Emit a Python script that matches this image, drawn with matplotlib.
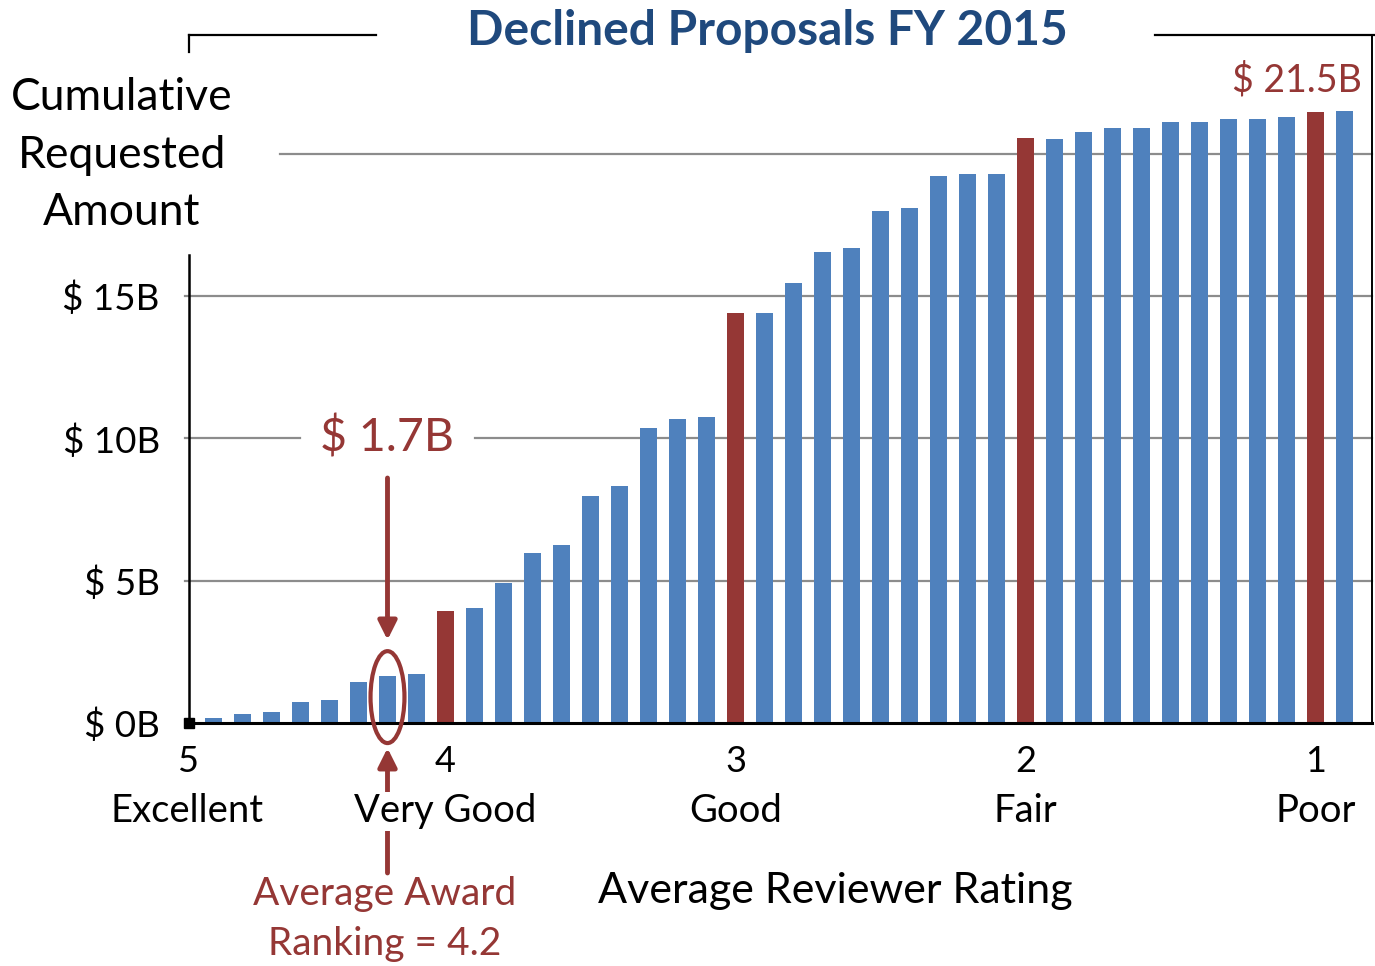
import matplotlib.pyplot as plt
from matplotlib.patches import Ellipse

# cumulative requested amount ($B), one bar per rating bin, best -> worst
amounts = [0.18, 0.31, 0.38, 0.75, 0.82, 1.44, 1.66, 1.72, 3.94, 4.03,
           4.93, 5.98, 6.25, 7.98, 8.32, 10.37, 10.67, 10.77, 14.41, 14.41,
           15.47, 16.54, 16.69, 17.98, 18.10, 19.23, 19.31, 19.31, 20.56, 20.54,
           20.77, 20.92, 20.92, 21.12, 21.12, 21.23, 21.23, 21.31, 21.48, 21.52]
# bins that sit on a whole rating (4, 3, 2, 1) are highlighted
highlight = [8, 18, 28, 38]

rating_pos = [-0.9, 8, 18, 28, 38]
rating_num = ["5", "4", "3", "2", "1"]
rating_word = ["Excellent", "Very Good", "Good", "Fair", "Poor"]

ytick_vals = [0, 5, 10, 15]
ytick_labels = ["$ 0B", "$ 5B", "$ 10B", "$ 15B"]

award_bar = 6
award_label = "$ 1.7B"
total_label = "$ 21.5B"

BLUE = "#4F81BD"
RED = "#953735"
TITLE = "#1F497D"
GRID = "#8c8c8c"

W, H = 1375, 966
plt.rcParams["font.family"] = ["Lato", "DejaVu Sans"]

fig = plt.figure(figsize=(W / 100, H / 100), dpi=100)
L, R, T, B = 189, 1372, 35, 723
ax = fig.add_axes([L / W, 1 - B / H, (R - L) / W, (B - T) / H])

x = list(range(len(amounts)))
colors = [RED if i in highlight else BLUE for i in x]
ax.bar(x, amounts, width=0.57, color=colors, zorder=3)

ax.set_xlim(-0.845, 39.95)
ax.set_ylim(0, 24.18)
for s in ax.spines.values():
    s.set_visible(False)
ax.set_xticks([])
ax.set_yticks(ytick_vals, labels=ytick_labels)
ax.tick_params(axis="y", length=0, pad=21, labelsize=26.5)


def ax_x(px):
    return (px - L) / (R - L)


def ax_y(py):
    return (B - py) / (B - T)


def frame(x0, x1, y0, y1, **kw):
    ax.plot([x0, x1], [y0, y1], transform=ax.transAxes, clip_on=False, **kw)


# gridlines (broken where text boxes sat on the chart)
for v in [5, 15]:
    yy = v / 24.18
    frame(ax_x(185), 1, yy, yy, color=GRID, lw=1.6, zorder=1)
y10 = 10 / 24.18
frame(ax_x(185), ax_x(300), y10, y10, color=GRID, lw=1.6, zorder=1)
frame(ax_x(475), 1, y10, y10, color=GRID, lw=1.6, zorder=1)
y20 = 20 / 24.18
frame(ax_x(280), 1, y20, y20, color=GRID, lw=1.6, zorder=1)

# frame pieces
frame(0, 1, 0, 0, color="black", lw=2.2, zorder=4)
frame(1, 1, 0, 1, color="black", lw=1.4, zorder=4)
frame(0, 0, 0, ax_y(255), color="black", lw=1.8, zorder=4)
frame(0, 0, ax_y(52), 1, color="black", lw=1.6, zorder=4)
frame(0, ax_x(376), 1, 1, color="black", lw=1.6, zorder=4)
frame(ax_x(1155), ax_x(1375), 1, 1, color="black", lw=1.6, zorder=4)
ax.plot([0], [0], marker="s", ms=7, color="black", transform=ax.transAxes,
        clip_on=False, zorder=5)

# rating labels
for p, n, w in zip(rating_pos, rating_num, rating_word):
    ax.text(p, -1.35, n, ha="center", va="center", fontsize=26, clip_on=False)
    ax.text(p, -3.1, w, ha="center", va="center", fontsize=27.5, clip_on=False,
            bbox=dict(fc="white", ec="none", pad=1))

fig.text(835 / W, 1 - 891 / H, "Average Reviewer Rating", ha="center",
         va="center", fontsize=31)
fig.text(122 / W, 1 - 155 / H, "Cumulative\nRequested\nAmount", ha="center",
         va="center", fontsize=32, linespacing=1.5)
fig.text(767 / W, 1 - 31 / H, "Declined Proposals FY 2015", ha="center",
         va="center", fontsize=34.5, fontweight="bold", color=TITLE)

# annotations
ax.text(award_bar, 10.02, award_label, ha="center", va="center", fontsize=33.5,
        color=RED)
ax.text(37.35, 22.6, total_label, ha="center", va="center", fontsize=27,
        color=RED, clip_on=False)
ax.annotate("", xy=(award_bar, 2.92), xytext=(award_bar, 8.61),
            arrowprops=dict(arrowstyle="-|>", color=RED, lw=3.5,
                            mutation_scale=28, shrinkA=0, shrinkB=0))
ax.add_patch(Ellipse((award_bar, 0.91), 1.17, 3.23, fill=False, ec=RED,
                     lw=3, clip_on=False, zorder=6))
ax.annotate("", xy=(award_bar, -0.88), xytext=(award_bar, -5.27),
            arrowprops=dict(arrowstyle="-|>", color=RED, lw=3.5,
                            mutation_scale=28, shrinkA=0, shrinkB=0),
            annotation_clip=False, zorder=2)
fig.text(385 / W, 1 - 919 / H, "Average Award\nRanking = 4.2", ha="center",
         va="center", fontsize=28, color=RED, linespacing=1.5)

fig.savefig("out.png", dpi=100, facecolor="white")
